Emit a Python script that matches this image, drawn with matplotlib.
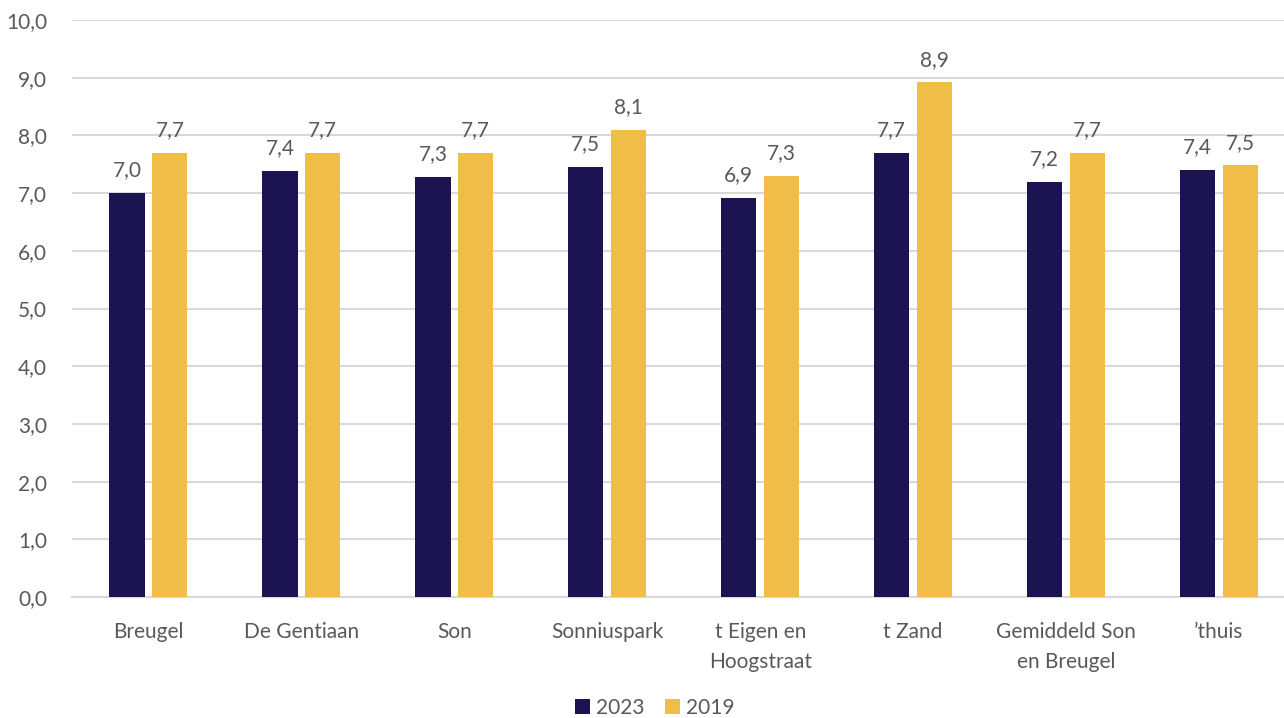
import numpy as np
import matplotlib.pyplot as plt

# data
locaties = ['Breugel', 'De Gentiaan', 'Son', 'Sonniuspark', 't Eigen en\nHoogstraat',
            't Zand', 'Gemiddeld Son\nen Breugel', '\u2019thuis']
cijfer_2023 = [7.0, 7.38, 7.28, 7.46, 6.92, 7.7, 7.2, 7.4]
cijfer_2019 = [7.7, 7.7, 7.7, 8.1, 7.3, 8.92, 7.7, 7.48]
yticks = np.arange(0, 10.5, 1.0)

navy = '#1C1452'
gold = '#F0BE48'
grijs = '#595959'
fs = 15

plt.rcParams['font.family'] = ['Lato', 'DejaVu Sans']

fig = plt.figure(figsize=(12.84, 7.18), dpi=100)
ax = fig.add_axes([72/1284, 121/718, 1 - 72/1284, 577/718])

x = np.arange(len(locaties))
w = 0.23
b1 = ax.bar(x - 0.14, cijfer_2023, w, color=navy, label='2023', zorder=3)
b2 = ax.bar(x + 0.14, cijfer_2019, w, color=gold, label='2019', zorder=3)

for bars in (b1, b2):
    for r in bars:
        h = r.get_height()
        ax.text(r.get_x() + r.get_width()/2, h + 0.22, f'{h:.1f}'.replace('.', ','),
                ha='center', va='bottom', fontsize=fs, color=grijs)

ax.set_xlim(-0.5, 7.425)
ax.set_ylim(0, 10)
ax.set_yticks(yticks)
ax.set_yticklabels([f'{v:.1f}'.replace('.', ',') for v in yticks], fontsize=fs, color=grijs)
ax.set_xticks(x)
ax.set_xticklabels(locaties, fontsize=fs, color=grijs, linespacing=1.65)
ax.tick_params(axis='both', length=0)
ax.tick_params(axis='y', pad=18)
ax.tick_params(axis='x', pad=18)
ax.grid(axis='y', color='#D9D9D9', linewidth=1.5, zorder=0)
for s in ['top', 'right', 'left']:
    ax.spines[s].set_visible(False)
ax.spines['bottom'].set_color('#D9D9D9')
ax.spines['bottom'].set_linewidth(1.5)

fig.legend(handles=[b1, b2], loc='lower center', bbox_to_anchor=(0.51, -0.026), ncol=2,
           frameon=False, fontsize=fs, handlelength=0.7, handleheight=0.7,
           handletextpad=0.3, columnspacing=1.0, labelcolor=grijs)

fig.savefig('out.png', dpi=100)
